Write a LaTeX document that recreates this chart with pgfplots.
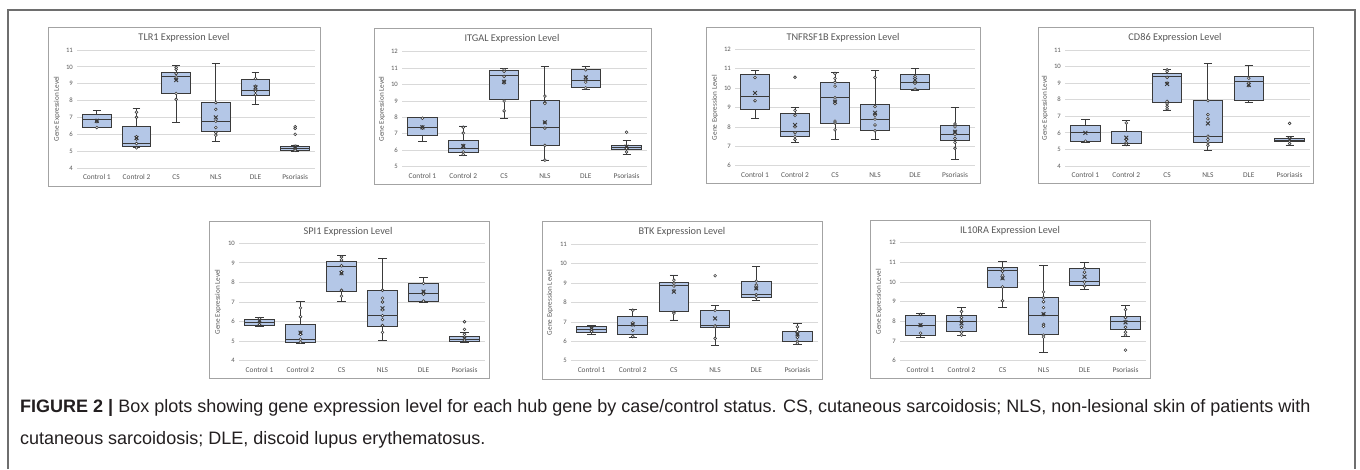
\documentclass[border=0pt]{standalone}
\usepackage{pgfplots}
\pgfplotsset{compat=1.18}
\usepgfplotslibrary{statistics}
\usepackage{fontspec}
\setmainfont{Carlito}
\newfontfamily\capfont{Liberation Sans}
\definecolor{boxblue}{HTML}{B4C7E7}
\definecolor{edgecol}{HTML}{3A3A3A}
\definecolor{framegray}{HTML}{A3A3A3}
\definecolor{gridgray}{HTML}{D9D9D9}
\definecolor{labgray}{HTML}{595959}
\definecolor{outergray}{HTML}{6E6E6E}
\definecolor{captext}{HTML}{231F20}

\pgfplotsset{panel/.style={
  scale only axis, anchor=south west,
  xmin=-0.5, xmax=5.5, xtick={0,1,2,3,4,5},
  xticklabels={Control 1, Control 2, CS, NLS, DLE, Psoriasis},
  ytick distance=1,
  ymajorgrids, grid style={gridgray, line width=0.8pt},
  axis line style={draw=none}, major tick length=0pt,
  /pgf/number format/assume math mode=true,
  xticklabel style={font=\fontsize{7.4}{8}\selectfont, text=labgray, anchor=base, yshift=-11.5pt},
  yticklabel style={font=\fontsize{6.7}{7}\selectfont, text=labgray, anchor=east, inner sep=0pt, xshift=-4pt},
  clip=false,
  boxplot/draw direction=y,
}}

% #1 position, #2 lower whisker, #3 lower quartile, #4 median, #5 upper quartile, #6 upper whisker, #7 mean, #8 points
\newcommand{\bx}[8]{%
  \addplot[draw=edgecol, line width=0.9pt, fill=boxblue,
    mark=*, mark size=1.4pt, mark options={fill=white, draw=edgecol, line width=0.6pt},
    boxplot prepared={draw direction=y, draw position=#1, lower whisker=#2, lower quartile=#3,
      median=#4, upper quartile=#5, upper whisker=#6, box extend=0.72, whisker extend=0.2}]
    table[row sep=\\, y index=0] {data\\ #8};
  \addplot[only marks, mark=x, mark size=2.7pt, mark options={draw=edgecol, line width=0.95pt}]
    coordinates {(#1,#7)};
}

\tikzset{
  pframe/.style={draw=framegray, line width=1pt},
  ptitle/.style={font=\fontsize{10.3}{11}\selectfont, text=labgray, inner sep=0pt},
  pylab/.style={font=\fontsize{7.2}{8}\selectfont, text=labgray, rotate=90, inner sep=0pt},
}

\begin{document}
\begin{tikzpicture}
\path[use as bounding box] (0pt,0pt) rectangle (1360pt,-469pt);
\fill[white] (0pt,0pt) rectangle (1360pt,-469pt);
\draw[outergray, line width=1.5pt] (8pt,-469pt) -- (8pt,-10pt) -- (1355pt,-10pt) -- (1355pt,-469pt);

% ---------- Panel 1: TLR1
\draw[pframe] (48pt,-27pt) rectangle (320pt,-186pt);
\node[ptitle] at (184pt,-38pt) {TLR1 Expression Level};
\node[pylab] at (57pt,-109pt) {Gene Expression Level};
\begin{axis}[panel, at={(77pt,-168pt)}, width=238pt, height=118pt, ymin=4, ymax=11]
\bx{0}{6.38}{6.40}{6.87}{7.17}{7.43}{6.80}{6.40\\ 6.82\\ 6.75\\}
\bx{1}{5.19}{5.25}{5.45}{6.44}{7.53}{5.78}{7.31\\ 7.01\\ 5.85\\ 5.72\\ 5.45\\ 5.20\\}
\bx{2}{6.68}{8.40}{9.45}{9.69}{10.11}{9.22}{9.97\\ 9.85\\ 9.60\\ 9.40\\ 9.25\\ 8.42\\ 8.07\\}
\bx{3}{5.55}{6.16}{6.78}{7.89}{10.21}{7.00}{7.88\\ 7.48\\ 6.78\\ 6.40\\ 6.10\\ 5.95\\}
\bx{4}{7.77}{8.28}{8.62}{9.27}{9.69}{8.78}{9.30\\ 8.85\\ 8.70\\ 8.55\\ 8.35\\}
\bx{5}{4.99}{5.05}{5.15}{5.29}{5.35}{5.25}{6.45\\ 6.35\\ 6.00\\ 5.30\\ 5.20\\ 5.10\\ 5.05\\}
\end{axis}

% ---------- Panel 2: ITGAL
\draw[pframe] (374pt,-28pt) rectangle (651pt,-184pt);
\node[ptitle] at (512pt,-39pt) {ITGAL Expression Level};
\node[pylab] at (382pt,-109pt) {Gene Expression Level};
\begin{axis}[panel, at={(402pt,-166.7pt)}, width=245pt, height=115pt, ymin=5, ymax=12]
\bx{0}{6.56}{6.93}{7.39}{7.98}{8.00}{7.40}{7.95\\ 7.42\\ 7.35\\}
\bx{1}{5.67}{5.85}{6.12}{6.62}{7.48}{6.26}{7.40\\ 7.05\\ 6.30\\ 6.20\\ 5.90\\ 5.75\\}
\bx{2}{7.94}{9.10}{10.58}{10.84}{10.97}{10.17}{10.90\\ 10.80\\ 10.50\\ 10.20\\ 10.10\\ 9.00\\ 8.40\\}
\bx{3}{5.41}{6.32}{7.39}{9.02}{11.13}{7.70}{9.30\\ 8.90\\ 8.85\\ 7.70\\ 7.35\\ 6.30\\ 5.40\\}
\bx{4}{9.71}{9.81}{10.23}{10.92}{11.13}{10.44}{10.90\\ 10.35\\ 10.15\\ 9.80\\}
\bx{5}{5.77}{6.06}{6.18}{6.32}{6.62}{6.22}{7.10\\ 6.20\\ 6.10\\ 5.90\\}
\end{axis}

% ---------- Panel 3: TNFRSF1B
\draw[pframe] (706pt,-27pt) rectangle (980pt,-183pt);
\node[ptitle] at (843pt,-38pt) {TNFRSF1B Expression Level};
\node[pylab] at (715pt,-107.5pt) {Gene Expression Level};
\begin{axis}[panel, at={(735pt,-165.7pt)}, width=240pt, height=116.4pt, ymin=6, ymax=12]
\bx{0}{8.45}{8.91}{9.56}{10.71}{10.90}{9.75}{10.55\\ 9.35\\}
\bx{1}{7.20}{7.50}{7.79}{8.70}{9.01}{8.10}{10.56\\ 8.85\\ 8.60\\ 8.00\\ 7.70\\ 7.50\\ 7.35\\}
\bx{2}{7.36}{8.18}{9.52}{10.28}{10.81}{9.30}{10.75\\ 10.50\\ 10.30\\ 10.10\\ 9.50\\ 9.30\\ 9.20\\ 8.30\\ 8.20\\ 7.85\\}
\bx{3}{7.36}{7.81}{8.39}{9.16}{10.93}{8.73}{10.55\\ 9.05\\ 8.70\\ 8.60\\ 8.40\\ 8.10\\ 7.80\\}
\bx{4}{9.90}{9.94}{10.28}{10.68}{11.00}{10.42}{10.60\\ 10.35\\ 10.25\\ 9.95\\}
\bx{5}{6.33}{7.32}{7.62}{8.06}{9.01}{7.75}{8.15\\ 8.00\\ 7.75\\ 7.60\\ 7.40\\ 7.20\\ 6.90\\}
\end{axis}

% ---------- Panel 4: CD86
\draw[pframe] (1038pt,-27pt) rectangle (1313pt,-183pt);
\node[ptitle] at (1175pt,-38pt) {CD86 Expression Level};
\node[pylab] at (1045pt,-108pt) {Gene Expression Level};
\begin{axis}[panel, at={(1065pt,-166pt)}, width=245pt, height=116pt, ymin=4, ymax=11]
\bx{0}{5.43}{5.47}{6.01}{6.43}{6.78}{6.00}{5.50\\}
\bx{1}{5.27}{5.35}{5.37}{6.07}{6.72}{5.71}{6.60\\ 5.60\\ 5.40\\ 5.30\\}
\bx{2}{7.38}{7.84}{9.39}{9.59}{9.85}{8.95}{9.80\\ 9.70\\ 9.35\\ 9.00\\ 7.90\\ 7.75\\ 7.60\\ 7.45\\}
\bx{3}{4.92}{5.43}{5.77}{7.94}{10.20}{6.57}{7.95\\ 7.10\\ 6.85\\ 5.80\\ 5.60\\ 5.40\\ 5.25\\}
\bx{4}{7.82}{7.94}{9.09}{9.39}{10.09}{8.89}{9.30\\ 9.00\\ 8.85\\}
\bx{5}{5.27}{5.47}{5.53}{5.67}{5.77}{5.60}{6.57\\ 5.70\\ 5.50\\ 5.35\\}
\end{axis}

% ---------- Panel 5: SPI1
\draw[pframe] (209pt,-221pt) rectangle (489pt,-378pt);
\node[ptitle] at (348pt,-232pt) {SPI1 Expression Level};
\node[pylab] at (218pt,-302pt) {Gene Expression Level};
\begin{axis}[panel, at={(239pt,-360.7pt)}, width=246pt, height=117.4pt, ymin=4, ymax=10]
\bx{0}{5.76}{5.79}{5.94}{6.13}{6.22}{6.03}{6.15\\ 6.00\\ 5.85\\}
\bx{1}{4.89}{4.92}{5.09}{5.86}{7.05}{5.43}{6.70\\ 6.25\\ 5.45\\ 5.35\\ 5.10\\ 4.95\\}
\bx{2}{7.05}{7.53}{8.84}{9.06}{9.40}{8.47}{9.30\\ 9.15\\ 8.85\\ 8.55\\ 8.45\\ 7.60\\ 7.30\\}
\bx{3}{5.02}{5.74}{6.30}{7.60}{9.23}{6.68}{7.60\\ 7.20\\ 7.00\\ 6.60\\ 6.30\\ 6.10\\ 5.80\\ 5.45\\}
\bx{4}{6.98}{7.02}{7.44}{7.95}{8.24}{7.53}{7.95\\ 7.50\\ 7.40\\ 7.05\\}
\bx{5}{4.94}{5.00}{5.09}{5.23}{5.42}{5.15}{5.99\\ 5.60\\ 5.35\\ 5.20\\ 5.05\\}
\end{axis}

% ---------- Panel 6: BTK
\draw[pframe] (542pt,-221pt) rectangle (822pt,-379pt);
\node[ptitle] at (682pt,-232pt) {BTK Expression Level};
\node[pylab] at (550pt,-302.5pt) {Gene Expression Level};
\begin{axis}[panel, at={(571pt,-360.7pt)}, width=247pt, height=116.4pt, ymin=5, ymax=11]
\bx{0}{6.36}{6.46}{6.62}{6.75}{6.81}{6.67}{6.70\\ 6.60\\ 6.50\\}
\bx{1}{6.19}{6.36}{6.84}{7.27}{7.66}{6.87}{7.60\\ 6.95\\ 6.85\\ 6.55\\ 6.25\\}
\bx{2}{7.10}{7.56}{8.90}{9.04}{9.42}{8.56}{9.15\\ 9.00\\ 8.85\\ 8.60\\ 7.50\\ 7.45\\}
\bx{3}{5.77}{6.70}{6.81}{7.58}{7.84}{7.18}{9.38\\ 7.60\\ 6.80\\ 6.75\\ 6.15\\}
\bx{4}{8.11}{8.27}{8.42}{9.11}{9.85}{8.73}{9.10\\ 8.90\\ 8.75\\ 8.40\\ 8.25\\}
\bx{5}{5.84}{6.01}{6.50}{6.53}{6.93}{6.36}{6.75\\ 6.50\\ 6.35\\ 6.20\\ 6.00\\ 5.90\\}
\end{axis}

% ---------- Panel 7: IL10RA
\draw[pframe] (870pt,-220pt) rectangle (1150pt,-378pt);
\node[ptitle] at (1010pt,-231pt) {IL10RA Expression Level};
\node[pylab] at (879pt,-301.7pt) {Gene Expression Level};
\begin{axis}[panel, at={(900pt,-360.7pt)}, width=246pt, height=118pt, ymin=6, ymax=12]
\bx{0}{7.17}{7.27}{7.78}{8.32}{8.41}{7.81}{8.35\\ 7.80\\ 7.40\\}
\bx{1}{7.27}{7.47}{8.02}{8.29}{8.71}{7.90}{8.50\\ 8.20\\ 8.05\\ 7.70\\ 7.45\\ 7.30\\}
\bx{2}{8.69}{9.71}{10.61}{10.73}{11.03}{10.19}{10.70\\ 10.55\\ 10.35\\ 10.20\\ 9.75\\ 9.05\\}
\bx{3}{6.41}{7.31}{8.32}{9.20}{10.86}{8.37}{9.50\\ 9.20\\ 9.00\\ 8.70\\ 8.35\\ 7.85\\ 7.75\\ 7.30\\ 7.20\\}
\bx{4}{9.63}{9.85}{10.02}{10.69}{11.00}{10.27}{10.70\\ 10.50\\ 10.00\\ 9.80\\}
\bx{5}{7.25}{7.61}{8.02}{8.24}{8.80}{7.95}{6.54\\ 8.60\\ 8.20\\ 8.00\\ 7.70\\ 7.45\\ 7.30\\}
\end{axis}

% ---------- Caption
\node[anchor=base west, inner sep=0pt, text=captext, font=\capfont\fontsize{18}{18}\selectfont] at (20pt,-412pt)
  {\textbf{FIGURE 2 |} Box plots showing gene expression level for each hub gene by case/control status. CS, cutaneous sarcoidosis; NLS, non-lesional skin of patients with};
\node[anchor=base west, inner sep=0pt, text=captext, font=\capfont\fontsize{18}{18}\selectfont] at (20pt,-444pt)
  {cutaneous sarcoidosis; DLE, discoid lupus erythematosus.};
\end{tikzpicture}
\end{document}
